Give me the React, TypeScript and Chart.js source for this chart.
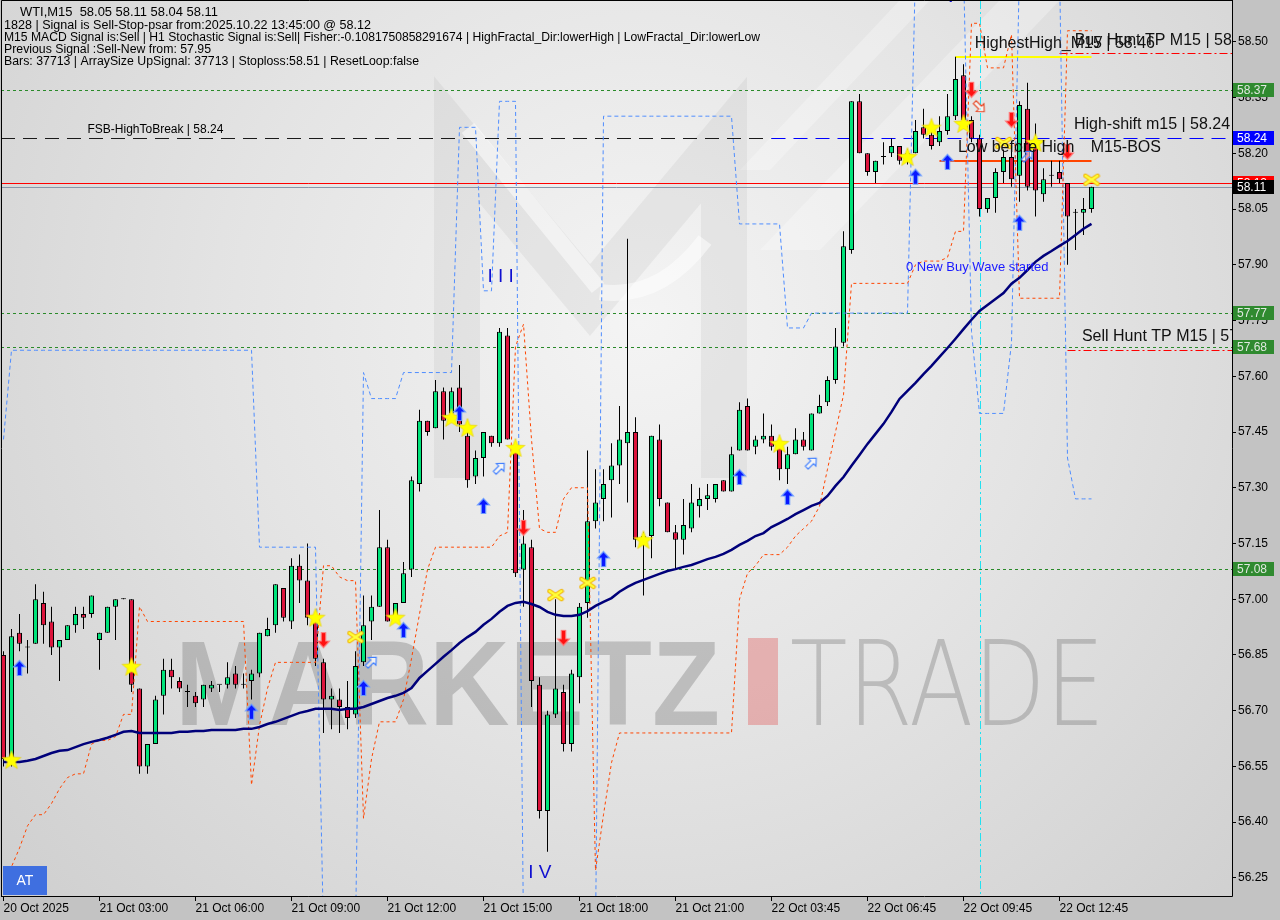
import React, { useEffect, useRef } from 'react';
import { Chart, registerables } from 'chart.js';

Chart.register(...registerables);

// ---------- candle data (WTI, M15) ----------
const opens = [
  56.85, 56.56, 56.91, 56.87, 56.88, 56.99, 56.94, 56.87, 56.89, 56.93, 56.96, 56.96, 56.89, 56.91, 56.98, 57.00, 57.00, 56.76, 56.55, 56.61,
  56.74, 56.81, 56.78, 56.75, 56.74, 56.73, 56.76, 56.77, 56.77, 56.80, 56.77, 56.78, 56.80, 56.90, 56.93, 57.03, 56.94, 57.09, 57.05, 56.94,
  56.83, 56.73, 56.73, 56.71, 56.69, 56.83, 56.94, 56.98, 57.14, 56.94, 56.99, 57.08, 57.31, 57.48, 57.46, 57.56, 57.50, 57.57, 57.44, 57.33,
  57.38, 57.44, 57.42, 57.71, 57.40, 57.08, 57.14, 56.77, 56.43, 56.69, 56.75, 56.61, 56.79, 56.99, 57.21, 57.27, 57.32, 57.36, 57.42, 57.45,
  57.17, 57.17, 57.43, 57.26, 57.18, 57.16, 57.19, 57.25, 57.27, 57.27, 57.32, 57.29, 57.40, 57.52, 57.41, 57.43, 57.44, 57.41, 57.35, 57.39,
  57.43, 57.40, 57.50, 57.53, 57.59, 57.69, 57.94, 58.34, 58.20, 58.15, 58.19, 58.20, 58.22, 58.18, 58.20, 58.27, 58.25, 58.23, 58.26, 58.30,
  58.41, 58.29, 58.24, 58.05, 58.08, 58.15, 58.19, 58.14, 58.32, 58.22, 58.09, 58.14, 58.15, 58.12, 58.04, 58.04, 58.05,
];
const highs = [
  56.86, 56.92, 56.96, 56.89, 57.04, 57.02, 56.98, 56.89, 56.93, 56.98, 56.98, 57.01, 56.91, 56.98, 57.00, 57.00, 57.00, 56.76, 56.61, 56.74,
  56.84, 56.84, 56.79, 56.77, 56.75, 56.77, 56.78, 56.77, 56.83, 56.82, 56.80, 56.81, 56.91, 56.95, 57.04, 57.03, 57.11, 57.12, 57.15, 56.95,
  56.84, 56.76, 56.76, 56.78, 56.86, 57.01, 57.01, 57.24, 57.16, 56.99, 57.10, 57.33, 57.51, 57.48, 57.59, 57.57, 57.57, 57.63, 57.46, 57.40,
  57.45, 57.44, 57.73, 57.73, 57.41, 57.24, 57.16, 56.79, 56.70, 57.00, 56.77, 56.81, 56.99, 57.40, 57.35, 57.35, 57.42, 57.52, 57.97, 57.49,
  57.18, 57.44, 57.47, 57.26, 57.20, 57.27, 57.31, 57.30, 57.31, 57.31, 57.32, 57.41, 57.53, 57.54, 57.44, 57.50, 57.47, 57.43, 57.41, 57.46,
  57.45, 57.50, 57.55, 57.60, 57.73, 57.99, 58.34, 58.36, 58.20, 58.18, 58.23, 58.24, 58.22, 58.21, 58.29, 58.32, 58.26, 58.30, 58.36, 58.46,
  58.44, 58.30, 58.25, 58.08, 58.16, 58.21, 58.21, 58.34, 58.39, 58.28, 58.16, 58.18, 58.18, 58.12, 58.05, 58.08, 58.11,
];
const lows = [
  56.55, 56.55, 56.86, 56.80, 56.88, 56.88, 56.85, 56.78, 56.89, 56.91, 56.92, 56.95, 56.81, 56.91, 56.89, 57.00, 56.75, 56.53, 56.53, 56.61,
  56.69, 56.76, 56.75, 56.71, 56.71, 56.71, 56.75, 56.75, 56.76, 56.76, 56.76, 56.73, 56.79, 56.90, 56.91, 56.94, 56.92, 56.99, 56.93, 56.82,
  56.64, 56.65, 56.64, 56.65, 56.68, 56.82, 56.89, 56.98, 56.94, 56.94, 56.99, 57.06, 57.29, 57.44, 57.46, 57.43, 57.49, 57.45, 57.30, 57.31,
  57.33, 57.41, 57.41, 57.43, 57.06, 56.98, 56.71, 56.41, 56.32, 56.68, 56.59, 56.59, 56.72, 56.95, 57.19, 57.21, 57.22, 57.31, 57.26, 57.14,
  57.01, 57.11, 57.25, 57.18, 57.08, 57.12, 57.18, 57.22, 57.24, 57.26, 57.29, 57.29, 57.40, 57.40, 57.39, 57.42, 57.40, 57.32, 57.31, 57.39,
  57.40, 57.40, 57.50, 57.52, 57.58, 57.68, 57.93, 58.20, 58.14, 58.12, 58.17, 58.19, 58.17, 58.17, 58.20, 58.24, 58.21, 58.22, 58.25, 58.29,
  58.27, 58.23, 58.03, 58.04, 58.04, 58.12, 58.11, 58.07, 58.10, 58.03, 58.07, 58.11, 58.12, 57.90, 57.94, 57.98, 58.04,
];
const closes = [
  56.57, 56.90, 56.88, 56.87, 57.00, 56.93, 56.87, 56.89, 56.93, 56.96, 56.95, 57.01, 56.91, 56.98, 57.00, 57.00, 56.77, 56.55, 56.61, 56.73,
  56.81, 56.79, 56.76, 56.75, 56.72, 56.77, 56.77, 56.77, 56.79, 56.77, 56.77, 56.80, 56.91, 56.92, 57.04, 56.95, 57.09, 57.05, 56.95, 56.84,
  56.73, 56.74, 56.71, 56.68, 56.82, 56.93, 56.98, 57.14, 56.94, 56.99, 57.07, 57.32, 57.48, 57.45, 57.56, 57.48, 57.56, 57.47, 57.32, 57.38,
  57.45, 57.42, 57.72, 57.43, 57.07, 57.15, 56.78, 56.43, 56.69, 56.76, 56.61, 56.80, 56.98, 57.21, 57.26, 57.31, 57.36, 57.43, 57.45, 57.16,
  57.15, 57.44, 57.27, 57.18, 57.16, 57.20, 57.26, 57.27, 57.28, 57.31, 57.29, 57.39, 57.51, 57.40, 57.43, 57.44, 57.41, 57.35, 57.39, 57.43,
  57.41, 57.50, 57.52, 57.59, 57.68, 57.95, 58.34, 58.20, 58.15, 58.18, 58.19, 58.22, 58.18, 58.20, 58.26, 58.25, 58.22, 58.26, 58.30, 58.40,
  58.29, 58.24, 58.05, 58.08, 58.15, 58.19, 58.13, 58.33, 58.11, 58.10, 58.13, 58.14, 58.13, 58.03, 58.04, 58.05, 58.11,
];

// moving average (navy)
const maValues = [
  56.562, 56.562, 56.562, 56.565, 56.570, 56.578, 56.586, 56.592, 56.594, 56.602, 56.610, 56.616, 56.621, 56.627, 56.635, 56.643, 56.645,
  56.640, 56.640, 56.640, 56.640, 56.640, 56.643, 56.643, 56.645, 56.645, 56.648, 56.648, 56.648, 56.648, 56.651, 56.651,
  56.656, 56.664, 56.670, 56.678, 56.686, 56.694, 56.699, 56.705, 56.705, 56.705, 56.702, 56.705, 56.705, 56.710, 56.718, 56.726, 56.734, 56.740, 56.748,
  56.761, 56.788, 56.807, 56.826, 56.845, 56.863, 56.882, 56.898, 56.912, 56.931, 56.947, 56.966, 56.982, 56.990, 56.993, 56.987, 56.979, 56.966, 56.958, 56.955,
  56.955, 56.958, 56.968, 56.982, 56.993, 57.003, 57.020, 57.033, 57.044, 57.052, 57.060, 57.068, 57.076, 57.081, 57.087, 57.092, 57.100, 57.108, 57.114, 57.122, 57.133, 57.146, 57.157, 57.170, 57.178,
  57.194, 57.205, 57.216, 57.229, 57.240, 57.251,
  57.259, 57.278, 57.305, 57.329, 57.359, 57.388, 57.418, 57.445, 57.472, 57.504, 57.539, 57.561, 57.582, 57.606, 57.628, 57.652, 57.676, 57.701, 57.727, 57.752,
  57.776, 57.792, 57.808, 57.824, 57.849, 57.865, 57.886, 57.908, 57.924, 57.937, 57.951, 57.964, 57.980, 57.997, 58.010,
];

// orange dashed trailing band
const lowerBand = [
  56.24, 56.28, 56.33, 56.39, 56.42, 56.42, 56.45, 56.49, 56.52, 56.53, 56.53, 56.61, 56.62, 56.62, 56.63, 56.69, 56.69,
  56.98,
  56.94, 56.94, 56.94, 56.94, 56.94, 56.94, 56.94, 56.94, 56.94, 56.94, 56.94, 56.94, 56.94,
  56.50, 56.66, 56.76, 56.83,
  56.83, 56.83, 56.83, 56.83, 56.83,
  57.09, 57.09, 57.06, 57.05, 57.05,
  56.41, 56.57, 56.67, 56.67, 56.67, 56.73, 56.84, 56.96, 57.08,
  57.14, 57.14, 57.14, 57.14, 57.14, 57.14, 57.14, 57.14,
  57.17, 57.18, 57.68, 57.74, 57.43, 57.19, 57.18, 57.18, 57.27, 57.30, 57.30, 57.30,
  56.27, 56.42, 56.56,
  56.64, 56.64, 56.64, 56.64, 56.64, 56.64, 56.64, 56.64, 56.64, 56.64, 56.64, 56.64, 56.64, 56.64, 56.64,
  57.00, 57.07, 57.09, 57.12, 57.12, 57.12, 57.14, 57.17, 57.19, 57.21, 57.25, 57.35, 57.45, 57.55,
  57.85, 57.85, 57.85, 57.85, 57.85, 57.85, 57.85, 57.85,
  57.90, 57.91, 57.91, 57.91, 57.92, 57.99, 57.99, 58.55, 58.55, 58.43, 58.43, 58.43, 58.52,
  57.81, 57.81, 57.81, 57.81, 57.81, 57.81,
  58.53, 58.53, 58.53, 58.53,
];

// blue dashed trailing band
const upperBand = [
  57.43,
  57.67, 57.67, 57.67, 57.67, 57.67, 57.67, 57.67, 57.67, 57.67, 57.67, 57.67, 57.67, 57.67, 57.67, 57.67, 57.67,
  57.67, 57.67, 57.67, 57.67, 57.67, 57.67, 57.67, 57.67, 57.67, 57.67, 57.67, 57.67, 57.67, 57.67, 57.67,
  57.14, 57.14, 57.14, 57.14, 57.14, 57.14, 57.14, 57.14,
  56.10, 56.10, 56.10, 56.10, 56.10,
  57.61,
  57.54, 57.54, 57.54, 57.54,
  57.61, 57.61, 57.61, 57.61, 57.61, 57.61, 57.61,
  58.27, 58.27, 58.27,
  57.83, 57.83,
  58.34, 58.34, 58.34,
  56.10, 56.10, 56.10, 56.10, 56.10, 56.10, 56.10, 56.10, 56.10, 56.10,
  58.30, 58.30, 58.30, 58.30, 58.30, 58.30, 58.30, 58.30, 58.30, 58.30, 58.30, 58.30, 58.30, 58.30, 58.30, 58.30, 58.30,
  58.01, 58.01, 58.01, 58.01, 58.01, 58.01,
  57.73, 57.73, 57.73,
  57.77, 57.77, 57.77, 57.77, 57.77, 57.77, 57.77, 57.77, 57.77, 57.77, 57.77, 57.77, 57.77,
  58.70, 58.70, 58.70, 58.70, 58.70, 58.70, 58.70,
  57.72,
  57.50, 57.50, 57.50, 57.50,
  57.69,
  58.70, 58.70, 58.70, 58.70, 58.70, 58.70,
  57.38,
  57.27, 57.27, 57.27,
];

// signal markers (bar index, price)
const buyArrowIdx = [2, 31, 45, 50, 57, 60, 75, 92, 98, 114, 118, 127];
const buyArrowPrice = [56.815, 56.697, 56.761, 56.917, 57.501, 57.251, 57.108, 57.329, 57.275, 58.137, 58.177, 58.013];
const sellArrowIdx = [40, 65, 70, 121, 126, 133];
const sellArrowPrice = [56.890, 57.192, 56.896, 58.371, 58.290, 58.204];
const hollowBuyIdx = [46, 62, 101, 128];
const hollowBuyPrice = [56.831, 57.353, 57.367, 58.193];
const hollowSellIdx = [122];
const hollowSellPrice = [58.325];
const starIdx = [1, 16, 39, 49, 56, 58, 64, 80, 97, 113, 116, 120, 129];
const starPrice = [56.567, 56.818, 56.950, 56.950, 57.488, 57.461, 57.407, 57.159, 57.418, 58.190, 58.269, 58.279, 58.228];
const crossIdx = [44, 69, 73, 125, 136];
const crossPrice = [56.898, 57.011, 57.044, 58.228, 58.129];

// axes
const xTickIdx = [0, 12, 24, 36, 48, 60, 72, 84, 96, 108, 120, 132];
const xTickLabels = [
  '20 Oct 2025', '21 Oct 03:00', '21 Oct 06:00', '21 Oct 09:00', '21 Oct 12:00', '21 Oct 15:00',
  '21 Oct 18:00', '21 Oct 21:00', '22 Oct 03:45', '22 Oct 06:45', '22 Oct 09:45', '22 Oct 12:45',
];
const yTicks = [56.25, 56.40, 56.55, 56.70, 56.85, 57.00, 57.15, 57.30, 57.45, 57.60, 57.75, 57.90, 58.05, 58.20, 58.35, 58.50];

// horizontal levels
const greenLevels = [58.37, 57.77, 57.68, 57.08];
const fsbLevel = 58.24;
const highShiftLevel = 58.24;
const highShiftStart = 96;
const signalLevel = 58.12;
const bidLevel = 58.11;
const highestHigh = 58.46;
const highestHighStart = 119;
const lowBeforeHigh = 58.18;
const lowBeforeHighStart = 117;
const buyHuntTP = 58.47;
const buyHuntStart = 132;
const sellHuntTP = 57.67;
const sellHuntStart = 133;
const lastBar = 136;
const cyanLineIdx = 122;

const headerLines = [
  'WTI,M15  58.05 58.11 58.04 58.11',
  '1828 | Signal is Sell-Stop-psar from:2025.10.22 13:45:00 @ 58.12',
  'M15 MACD Signal is:Sell | H1 Stochastic Signal is:Sell| Fisher:-0.1081750858291674 | HighFractal_Dir:lowerHigh | LowFractal_Dir:lowerLow',
  'Previous Signal :Sell-New from: 57.95',
  'Bars: 37713 | ArraySize UpSignal: 37713 | Stoploss:58.51 | ResetLoop:false',
];

const textNotes = [
  { text: 'FSB-HighToBreak | 58.24', i: 10.5, p: 58.263, size: 12, color: '#000000' },
  { text: 'HighestHigh_M15 | 58.46', i: 121.4, p: 58.495, size: 16, color: '#111111' },
  { text: 'Buy Hunt TP M15 | 58.47', i: 133.9, p: 58.503, size: 16, color: '#111111' },
  { text: 'High-shift m15 | 58.24', i: 133.8, p: 58.277, size: 16, color: '#111111' },
  { text: 'Low before High', i: 119.3, p: 58.215, size: 16, color: '#111111' },
  { text: 'M15-BOS', i: 135.9, p: 58.215, size: 16, color: '#111111' },
  { text: 'Sell Hunt TP M15 | 57.67', i: 134.8, p: 57.706, size: 16, color: '#111111' },
  { text: '0 New Buy Wave started', i: 112.8, p: 57.894, size: 13, color: '#1a1aff' },
  { text: 'I I I', i: 60.5, p: 57.867, size: 19, color: '#1010d0' },
  { text: 'I V', i: 65.6, p: 56.263, size: 19, color: '#1010d0' },
  { text: 'V', i: 118.4, p: 58.62, size: 18, color: '#1010d0' },
];

const axisTags = [
  { p: 58.37, bg: '#2f8a2f', fg: '#dfe8df', text: '58.37' },
  { p: 57.77, bg: '#2f8a2f', fg: '#dfe8df', text: '57.77' },
  { p: 57.68, bg: '#2f8a2f', fg: '#dfe8df', text: '57.68' },
  { p: 57.08, bg: '#2f8a2f', fg: '#dfe8df', text: '57.08' },
  { p: 58.24, bg: '#0000ff', fg: '#ffffff', text: '58.24' },
  { p: 58.12, bg: '#ff0000', fg: '#ffffff', text: '58.12' },
  { p: 58.11, bg: '#000000', fg: '#ffffff', text: '58.11' },
];

const GREEN = '#00e37a';
const RED = '#dc143c';
const FONT = '"Liberation Sans", Arial, sans-serif';

function makeGlyph(w: number, h: number, draw: (g: CanvasRenderingContext2D) => void) {
  const c = document.createElement('canvas');
  c.width = w;
  c.height = h;
  const g = c.getContext('2d') as CanvasRenderingContext2D;
  draw(g);
  return c;
}

function arrowPath(g: CanvasRenderingContext2D) {
  g.beginPath();
  g.moveTo(0, -7.5);
  g.lineTo(6, -1);
  g.lineTo(2.2, -1);
  g.lineTo(2.2, 7.5);
  g.lineTo(-2.2, 7.5);
  g.lineTo(-2.2, -1);
  g.lineTo(-6, -1);
  g.closePath();
}

function buildGlyphs() {
  const up = makeGlyph(15, 18, (g) => {
    g.translate(7.5, 9);
    arrowPath(g);
    g.fillStyle = '#0818ff';
    g.fill();
    g.strokeStyle = 'rgba(110,160,255,0.9)';
    g.lineWidth = 1.2;
    g.stroke();
  });
  const down = makeGlyph(15, 18, (g) => {
    g.translate(7.5, 9);
    g.rotate(Math.PI);
    arrowPath(g);
    g.fillStyle = '#ff1010';
    g.fill();
    g.strokeStyle = 'rgba(255,120,120,0.9)';
    g.lineWidth = 1.2;
    g.stroke();
  });
  const hollowUp = makeGlyph(18, 18, (g) => {
    g.translate(9, 9);
    g.rotate(Math.PI / 4);
    g.scale(0.9, 0.9);
    arrowPath(g);
    g.fillStyle = 'rgba(255,255,255,0.55)';
    g.fill();
    g.strokeStyle = '#3d7dff';
    g.lineWidth = 1.2;
    g.stroke();
  });
  const hollowDown = makeGlyph(18, 18, (g) => {
    g.translate(9, 9);
    g.rotate((3 * Math.PI) / 4);
    g.scale(0.9, 0.9);
    arrowPath(g);
    g.fillStyle = 'rgba(255,255,255,0.55)';
    g.fill();
    g.strokeStyle = '#e8401c';
    g.lineWidth = 1.2;
    g.stroke();
  });
  const star = makeGlyph(22, 22, (g) => {
    g.translate(11, 11.5);
    g.beginPath();
    for (let k = 0; k < 10; k++) {
      const r = k % 2 === 0 ? 10 : 4.2;
      const a = -Math.PI / 2 + (k * Math.PI) / 5;
      const px = r * Math.cos(a);
      const py = r * Math.sin(a);
      if (k === 0) g.moveTo(px, py);
      else g.lineTo(px, py);
    }
    g.closePath();
    g.fillStyle = '#ffff00';
    g.fill();
    g.strokeStyle = 'rgba(225,200,0,0.9)';
    g.lineWidth = 0.6;
    g.stroke();
  });
  const cross = makeGlyph(18, 14, (g) => {
    g.lineCap = 'round';
    g.strokeStyle = '#f2b200';
    g.lineWidth = 4.5;
    g.beginPath();
    g.moveTo(3, 3); g.lineTo(15, 11);
    g.moveTo(15, 3); g.lineTo(3, 11);
    g.stroke();
    g.strokeStyle = '#ffff38';
    g.lineWidth = 2.4;
    g.beginPath();
    g.moveTo(3, 3); g.lineTo(15, 11);
    g.moveTo(15, 3); g.lineTo(3, 11);
    g.stroke();
  });
  return { up, down, hollowUp, hollowDown, star, cross };
}

function fitText(ctx: CanvasRenderingContext2D, text: string, x: number, y: number, w: number, sy = 1) {
  const m = ctx.measureText(text).width;
  ctx.save();
  ctx.translate(x, y);
  ctx.scale(w / m, sy);
  ctx.fillText(text, 0, 0);
  ctx.restore();
}

const backgroundPlugin = {
  id: 'mtBackground',
  beforeDraw(chart: any) {
    const { ctx, chartArea: a, width, height } = chart;
    ctx.save();
    ctx.fillStyle = '#c3c3c3';
    ctx.fillRect(0, 0, width, height);
    const g = ctx.createRadialGradient(640, 320, 0, 640, 320, 900);
    g.addColorStop(0, '#f4f4f4');
    g.addColorStop(0.45, '#e4e4e4');
    g.addColorStop(1, '#cdcdcd');
    ctx.fillStyle = g;
    ctx.fillRect(a.left, a.top, a.right - a.left, a.bottom - a.top);

    ctx.beginPath();
    ctx.rect(a.left, a.top, a.right - a.left, a.bottom - a.top);
    ctx.clip();

    // faint light diagonal bands (top right)
    ctx.fillStyle = 'rgba(255,255,255,0.28)';
    ctx.beginPath();
    ctx.moveTo(760, 250); ctx.lineTo(820, 250); ctx.lineTo(1060, 0); ctx.lineTo(1000, 0); ctx.closePath();
    ctx.fill();
    ctx.beginPath();
    ctx.moveTo(740, 170); ctx.lineTo(770, 170); ctx.lineTo(930, 0); ctx.lineTo(900, 0); ctx.closePath();
    ctx.fill();

    // M logo watermark
    ctx.lineJoin = 'miter';
    ctx.strokeStyle = 'rgba(150,150,150,0.12)';
    ctx.lineWidth = 46;
    ctx.beginPath();
    ctx.moveTo(457, 478); ctx.lineTo(457, 140); ctx.lineTo(590, 300); ctx.lineTo(724, 140); ctx.lineTo(724, 478);
    ctx.stroke();
    ctx.strokeStyle = 'rgba(255,255,255,0.5)';
    ctx.lineWidth = 16;
    ctx.beginPath();
    ctx.moveTo(468, 128); ctx.lineTo(598, 288);
    ctx.stroke();
    ctx.beginPath();
    ctx.moveTo(600, 292); ctx.quadraticCurveTo(660, 300, 705, 240);
    ctx.stroke();

    // MARKETZ I TRADE watermark
    ctx.fillStyle = 'rgba(95,95,95,0.3)';
    ctx.font = 'bold 120px ' + FONT;
    ctx.textBaseline = 'alphabetic';
    ctx.textAlign = 'left';
    fitText(ctx, 'MARKETZ', 175, 725, 545, 1.0);
    ctx.fillStyle = 'rgba(225,90,90,0.38)';
    ctx.fillRect(748, 638, 30, 87);
    ctx.fillStyle = 'rgba(95,95,95,0.3)';
    ctx.font = '200 120px "DejaVu Sans", ' + FONT;
    fitText(ctx, 'TRADE', 790, 725, 315, 0.98);
    ctx.restore();
  },
};

const levelsPlugin = {
  id: 'mtLevels',
  beforeDatasetsDraw(chart: any) {
    const { ctx, chartArea: a } = chart;
    const xs = chart.scales.x;
    const ys = chart.scales.y;
    const X = (i: number) => xs.getPixelForValue(i);
    const Y = (p: number) => Math.round(ys.getPixelForValue(p)) + 0.5;
    ctx.save();
    ctx.beginPath();
    ctx.rect(a.left, a.top, a.right - a.left, a.bottom - a.top);
    ctx.clip();
    const hline = (p: number, x0: number, x1: number, color: string, dash: number[], w = 1) => {
      ctx.beginPath();
      ctx.setLineDash(dash);
      ctx.strokeStyle = color;
      ctx.lineWidth = w;
      const y = w % 2 === 0 ? Math.round(ys.getPixelForValue(p)) : Y(p);
      ctx.moveTo(x0, y);
      ctx.lineTo(x1, y);
      ctx.stroke();
    };
    greenLevels.forEach((p) => hline(p, a.left, a.right, '#2a8a2a', [3, 3]));
    hline(fsbLevel, a.left, X(highShiftStart), '#1a1a1a', [14, 8]);
    hline(highShiftLevel, X(highShiftStart), a.right, '#0000ff', [14, 8]);
    hline(bidLevel, a.left, a.right, '#8796a8', []);
    hline(signalLevel, a.left, a.right, '#ff0000', []);
    hline(highestHigh, X(highestHighStart), X(lastBar), '#ffff00', [], 2);
    hline(lowBeforeHigh, X(lowBeforeHighStart), X(lastBar), '#ff4500', [], 2);
    hline(buyHuntTP, X(buyHuntStart), a.right, '#ff0000', [8, 3, 2, 3]);
    hline(sellHuntTP, X(sellHuntStart), a.right, '#ff0000', [8, 3, 2, 3]);
    // cyan vertical marker
    ctx.beginPath();
    ctx.setLineDash([8, 3, 2, 3]);
    ctx.strokeStyle = '#22e0f0';
    ctx.lineWidth = 1;
    const cx = Math.round(X(cyanLineIdx)) + 0.5;
    ctx.moveTo(cx, a.top);
    ctx.lineTo(cx, a.bottom);
    ctx.stroke();
    ctx.restore();
  },
  afterDatasetsDraw(chart: any) {
    const { ctx, chartArea: a } = chart;
    const xs = chart.scales.x;
    const ys = chart.scales.y;
    ctx.save();
    ctx.beginPath();
    ctx.rect(a.left, a.top, a.right - a.left, a.bottom - a.top);
    ctx.clip();
    ctx.textBaseline = 'middle';
    textNotes.forEach((n) => {
      ctx.font = n.size + 'px ' + FONT;
      ctx.fillStyle = n.color;
      ctx.textAlign = n.text === 'V' ? 'center' : 'left';
      ctx.fillText(n.text, xs.getPixelForValue(n.i), ys.getPixelForValue(n.p));
    });
    ctx.restore();
  },
};

const overlayPlugin = {
  id: 'mtOverlay',
  afterDraw(chart: any) {
    const { ctx, chartArea: a } = chart;
    const ys = chart.scales.y;
    ctx.save();
    // frame
    ctx.strokeStyle = '#000';
    ctx.lineWidth = 1;
    ctx.setLineDash([]);
    ctx.beginPath();
    ctx.moveTo(1.5, 0.5); ctx.lineTo(a.right + 0.5, 0.5);
    ctx.moveTo(1.5, 0.5); ctx.lineTo(1.5, a.bottom + 0.5);
    ctx.moveTo(a.right + 0.5, 0); ctx.lineTo(a.right + 0.5, a.bottom + 0.5);
    ctx.moveTo(1, a.bottom + 0.5); ctx.lineTo(a.right + 0.5, a.bottom + 0.5);
    ctx.stroke();

    // price tags on the axis
    ctx.font = '12px ' + FONT;
    ctx.textBaseline = 'middle';
    ctx.textAlign = 'left';
    axisTags.forEach((t) => {
      const y = Math.round(ys.getPixelForValue(t.p));
      ctx.fillStyle = t.bg;
      ctx.fillRect(a.right + 1, y - 7, 41, 14);
      ctx.fillStyle = t.fg;
      ctx.fillText(t.text, a.right + 5, y + 0.5);
    });

    // header text
    ctx.fillStyle = '#000';
    ctx.font = '12px ' + FONT;
    ctx.textBaseline = 'middle';
    const hx = [20, 4, 4, 4, 4];
    const hy = [13, 26, 38, 50, 62];
    const hw = [198, 367, 756, 207, 415];
    headerLines.forEach((s, k) => fitText(ctx, s, hx[k], hy[k], hw[k]));

    // AT badge
    ctx.fillStyle = '#3f6fe0';
    ctx.fillRect(3, 866, 44, 29);
    ctx.fillStyle = '#ffffff';
    ctx.font = '14px ' + FONT;
    ctx.textAlign = 'center';
    ctx.fillText('AT', 25, 881);
    ctx.restore();
  },
};

export default function App() {
  const ref = useRef<HTMLCanvasElement | null>(null);

  useEffect(() => {
    document.body.style.margin = '0';
    const canvas = ref.current;
    if (!canvas) return;
    const gl = buildGlyphs();
    const idx = opens.map((_, i) => i);
    const bodyData = idx.map((i) => ({ x: i, y: [opens[i], closes[i]] }));
    const wickData = idx.map((i) => ({ x: i, y: [lows[i], highs[i]] }));
    const bodyColors = idx.map((i) => (closes[i] > opens[i] ? GREEN : closes[i] < opens[i] ? RED : '#000000'));
    const pts = (ix: number[], pr: number[]) => ix.map((v, k) => ({ x: v, y: pr[k] }));
    const markerDs = (label: string, data: any[], style: any) => ({
      type: 'scatter',
      label,
      data,
      pointStyle: style,
      pointRadius: 6,
      pointHoverRadius: 6,
      order: 0,
    });

    Chart.defaults.font.family = FONT;

    const chart = new Chart(canvas, {
      type: 'bar',
      data: {
        datasets: [
          {
            type: 'bar', label: 'wick', data: wickData, backgroundColor: '#000000', borderWidth: 0,
            barThickness: 1, grouped: false, minBarLength: 1, inflateAmount: 0, order: 6,
          },
          {
            type: 'bar', label: 'body', data: bodyData, backgroundColor: bodyColors, borderColor: '#000000',
            borderWidth: 1, borderSkipped: false, barThickness: 5, grouped: false, minBarLength: 1, inflateAmount: 0, order: 5,
          },
          {
            type: 'line', label: 'lower band', data: idx.map((i) => ({ x: i, y: lowerBand[i] })),
            borderColor: '#ff4500', borderWidth: 1, borderDash: [3, 3], pointRadius: 0, tension: 0, order: 4,
          },
          {
            type: 'line', label: 'upper band', data: idx.map((i) => ({ x: i, y: upperBand[i] })),
            borderColor: '#4f8dff', borderWidth: 1, borderDash: [4, 3], pointRadius: 0, tension: 0, order: 4,
          },
          {
            type: 'line', label: 'MA', data: idx.map((i) => ({ x: i, y: maValues[i] })),
            borderColor: '#00007a', borderWidth: 2.5, pointRadius: 0, tension: 0, order: 3,
          },
          markerDs('buy', pts(buyArrowIdx, buyArrowPrice), gl.up),
          markerDs('sell', pts(sellArrowIdx, sellArrowPrice), gl.down),
          markerDs('hollow buy', pts(hollowBuyIdx, hollowBuyPrice), gl.hollowUp),
          markerDs('hollow sell', pts(hollowSellIdx, hollowSellPrice), gl.hollowDown),
          markerDs('star', pts(starIdx, starPrice), gl.star),
          markerDs('cross', pts(crossIdx, crossPrice), gl.cross),
        ] as any,
      },
      options: {
        responsive: false,
        animation: false,
        devicePixelRatio: 1,
        events: [],
        layout: { autoPadding: false, padding: { left: 1, top: 1, right: 0, bottom: 0 } },
        plugins: { legend: { display: false }, tooltip: { enabled: false } },
        scales: {
          x: {
            type: 'linear',
            position: 'bottom',
            bounds: 'data',
            offset: false,
            min: -0.3125,
            max: 153.5625,
            afterBuildTicks: (ax: any) => { ax.ticks = xTickIdx.map((v) => ({ value: v })); },
            afterFit: (ax: any) => { ax.height = 24; ax.paddingLeft = 0; ax.paddingRight = 0; },
            ticks: {
              autoSkip: false, maxRotation: 0, minRotation: 0, align: 'start', padding: 0,
              color: '#000000', font: { size: 12, family: FONT },
              callback: (v: any) => { const k = xTickIdx.indexOf(Number(v)); return k >= 0 ? xTickLabels[k] : ''; },
            },
            grid: { offset: false, drawOnChartArea: false, drawTicks: true, tickLength: 5, color: '#000000' },
            border: { display: false },
          },
          y: {
            type: 'linear',
            position: 'right',
            bounds: 'data',
            min: 56.2012,
            max: 58.61,
            afterBuildTicks: (ax: any) => { ax.ticks = yTicks.map((v) => ({ value: v })); },
            afterFit: (ax: any) => { ax.width = 48; ax.paddingTop = 0; ax.paddingBottom = 0; },
            ticks: {
              autoSkip: false, padding: 2, color: '#000000', font: { size: 12, family: FONT },
              callback: (v: any) => Number(v).toFixed(2),
            },
            grid: { drawOnChartArea: false, drawTicks: true, tickLength: 4, color: '#000000' },
            border: { display: false },
          },
        },
      } as any,
      plugins: [backgroundPlugin, levelsPlugin, overlayPlugin],
    } as any);

    return () => chart.destroy();
  }, []);

  return (
    <div style={{ position: 'absolute', left: 0, top: 0, width: 1280, height: 920 }}>
      <canvas ref={ref} width={1280} height={920} style={{ display: 'block', width: 1280, height: 920 }} />
    </div>
  );
}
